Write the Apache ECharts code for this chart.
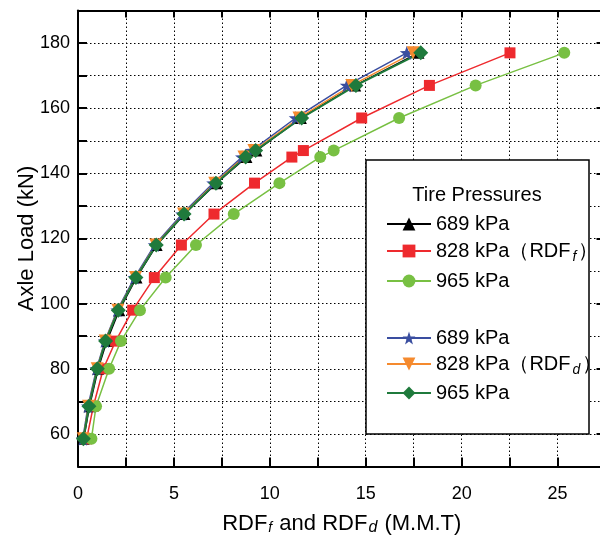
<!DOCTYPE html>
<html>
<head>
<meta charset="utf-8">
<script src="https://cdn.jsdelivr.net/npm/echarts@6/dist/echarts.min.js"></script>
<style>html,body{margin:0;padding:0;background:#fff}#c{width:600px;height:538px}</style>
</head>
<body>
<div id="c"></div>
<script>
// Axle loads (kN)
const loads = [58.5, 68.5, 80, 88.5, 98, 108, 118, 127.5, 137, 145, 147, 157, 167, 177];
// RDF_f
const rdfF689 = [0.30, 0.60, 1.05, 1.50, 2.15, 3.05, 4.10, 5.55, 7.22, 8.78, 9.30, 11.62, 14.45, 17.75];
const rdfF828 = [0.45, 0.80, 1.32, 1.96, 2.85, 3.98, 5.39, 7.09, 9.20, 11.15, 11.75, 14.79, 18.32, 22.52];
const rdfF965 = [0.70, 0.94, 1.62, 2.24, 3.23, 4.57, 6.15, 8.12, 10.50, 12.63, 13.33, 16.74, 20.73, 25.35];
// RDF_d
const rdfD689 = [0.25, 0.52, 0.97, 1.40, 2.05, 2.95, 4.00, 5.43, 7.05, 8.55, 9.05, 11.35, 14.01, 17.14];
const rdfD828 = [0.27, 0.55, 1.00, 1.42, 2.08, 3.00, 4.05, 5.50, 7.13, 8.65, 9.17, 11.52, 14.27, 17.47];
const rdfD965 = [0.28, 0.57, 1.01, 1.44, 2.10, 3.02, 4.08, 5.53, 7.19, 8.74, 9.26, 11.66, 14.49, 17.87];

const xTickLabels = [0, 5, 10, 15, 20, 25];
const yTickLabels = [60, 80, 100, 120, 140, 160, 180];

const legendLabels = {
  f689: '689 kPa', f828: '828 kPa（RDF{sub|f}）', f965: '965 kPa',
  d689: '689 kPa', d828: '828 kPa（RDF{sub|d}）', d965: '965 kPa'
};

const FONT = '"Liberation Sans", Arial, sans-serif';
function pairs(xs) { return xs.map((x, i) => [x, loads[i]]); }

function mk(name, xs, color, symbol, size, lw) {
  return {
    name: name, type: 'line', data: pairs(xs),
    symbol: symbol, symbolSize: size,
    lineStyle: { color: color, width: lw },
    itemStyle: { color: color },
    emphasis: { disabled: true },
    animation: false
  };
}

const chart = echarts.init(document.getElementById('c'), null, { renderer: 'canvas' });
const legendText = {
  fontSize: 20, fontFamily: FONT, color: '#000',
  rich: { sub: { fontSize: 14, fontStyle: 'italic', fontFamily: FONT, padding: [12, 2, 0, 2], color: '#000' } }
};
chart.setOption({
  animation: false,
  grid: { left: 78, top: 10.5, width: 527.5, height: 456, outerBoundsMode: 'none', containLabel: false },
  xAxis: [{
    type: 'value', min: 0, max: 27.5, interval: 2.5, position: 'bottom',
    name: 'RDF{sub|f} and RDF{subi|d} (M.M.T)', nameLocation: 'middle', nameGap: 45, nameMoveOverlap: false,
    nameTextStyle: { fontSize: 22, fontFamily: FONT, color: '#000',
      rich: { sub: { fontSize: 14, fontStyle: 'italic', fontFamily: FONT, padding: [10, 1, 0, 1] },
              subi: { fontSize: 16, fontStyle: 'italic', fontFamily: FONT, padding: [8, 1, 0, 1] } } },
    axisLine: { onZero: false, lineStyle: { color: '#000', width: 2 } },
    axisTick: { inside: true, length: 9, lineStyle: { color: '#000', width: 2 } },
    axisLabel: { fontSize: 18, fontFamily: FONT, color: '#000', margin: 19,
      formatter: v => xTickLabels.indexOf(v) >= 0 ? String(v) : '' },
    splitLine: { show: true, lineStyle: { color: '#000', type: [1.5, 2.5], width: 1 } }
  }, {
    type: 'value', min: 0, max: 27.5, interval: 2.5, position: 'top',
    axisLine: { onZero: false, lineStyle: { color: '#000', width: 2 } },
    axisTick: { inside: true, length: 7, lineStyle: { color: '#000', width: 2 } },
    axisLabel: { show: false }, splitLine: { show: false }
  }],
  yAxis: [{
    type: 'value', min: 50, max: 190, interval: 10, position: 'left',
    name: 'Axle Load (kN)', nameLocation: 'middle', nameGap: 40, nameRotate: 90, nameMoveOverlap: false,
    nameTextStyle: { fontSize: 22, fontFamily: FONT, color: '#000' },
    axisLine: { onZero: false, lineStyle: { color: '#000', width: 2 } },
    axisTick: { inside: true, length: 9, lineStyle: { color: '#000', width: 2 } },
    axisLabel: { fontSize: 18, fontFamily: FONT, color: '#000', margin: 8,
      formatter: v => yTickLabels.indexOf(v) >= 0 ? String(v) : '' },
    splitLine: { show: true, lineStyle: { color: '#000', type: [1.5, 2.5], width: 1 } }
  }, {
    type: 'value', min: 50, max: 190, interval: 10, position: 'right',
    axisLine: { onZero: false, lineStyle: { color: '#000', width: 2 } },
    axisTick: { inside: true, length: 9, customValues: yTickLabels, lineStyle: { color: '#000', width: 2 } },
    axisLabel: { show: false }, splitLine: { show: false }
  }],
  legend: [{
    data: ['f689', 'f828', 'f965'], orient: 'vertical', left: 381, top: 209,
    itemWidth: 44, itemHeight: 16, itemGap: 7, z: 10,
    formatter: n => legendLabels[n], textStyle: legendText, selectedMode: false
  }, {
    data: ['d689', 'd828', 'd965'], orient: 'vertical', left: 381, top: 323,
    itemWidth: 44, itemHeight: 16, itemGap: 6, z: 10,
    formatter: n => legendLabels[n], textStyle: legendText, selectedMode: false
  }],
  graphic: [
    { type: 'rect', z: 8, shape: { x: 366, y: 160, width: 223, height: 274 },
      style: { fill: '#fff', stroke: '#000', lineWidth: 1.5 } },
    { type: 'text', z: 9, x: 477, y: 195,
      style: { text: 'Tire Pressures', fontSize: 20, fontFamily: FONT, fill: '#000', align: 'center', verticalAlign: 'middle' } }
  ],
  series: [
    mk('f689', rdfF689, '#000000', 'triangle', 12, 1.5),
    mk('f828', rdfF828, '#ee2a2e', 'rect', 11, 1.5),
    mk('f965', rdfF965, '#78c043', 'circle', 12, 1.5),
    mk('d689', rdfD689, '#3a4ea0', 'path://M0,-10 L2.35,-3.24 L9.51,-3.09 L3.8,1.24 L5.88,8.09 L0,4 L-5.88,8.09 L-3.8,1.24 L-9.51,-3.09 L-2.35,-3.24 Z', 14, 1.5),
    mk('d828', rdfD828, '#f58a2e', 'path://M-10,-8 L10,-8 L0,10 Z', 13, 1.5),
    mk('d965', rdfD965, '#1f7a3c', 'diamond', 15, 2)
  ]
});
</script>
</body>
</html>
